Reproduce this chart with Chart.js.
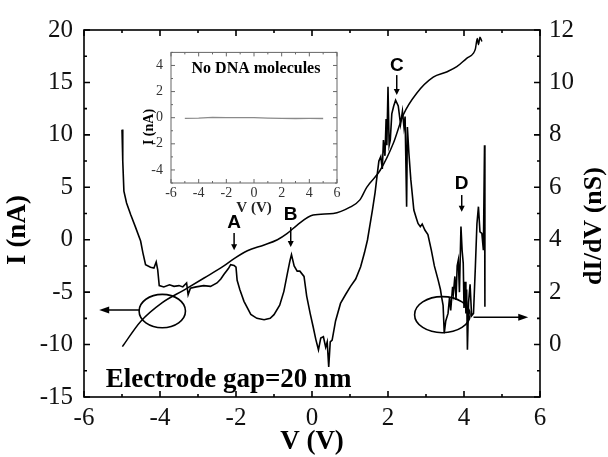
<!DOCTYPE html>
<html lang="en">
<head>
<meta charset="UTF-8">
<title>I-V and dI/dV, electrode gap 20 nm</title>
<script src="https://cdn.jsdelivr.net/npm/chart.js@4"></script>
<style>
  html, body { margin: 0; padding: 0; background: #fff; }
  #wrap { position: relative; width: 608px; height: 457px; }
  #main { position: absolute; left: 0; top: 0; }
  #inset { position: absolute; left: 120px; top: 36px; }
</style>
</head>
<body>
<div id="wrap">
  <canvas id="main" width="608" height="457"></canvas>
  <canvas id="inset" width="232" height="190"></canvas>
</div>
<script>
// I-V curve (left axis, nA)
const ivV = [-4.99, -4.51, -3.94, -3.37, -2.84, -2.32, -2.05, -1.70, -1.26, -0.91, -0.65, -0.39,
             0.03, 0.56, 1.00, 1.26, 1.44, 1.79, 2.14, 2.40, 2.75, 3.19, 3.54, 3.81, 4.07, 4.25,
             4.30, 4.35, 4.38, 4.42, 4.47];
const ivI = [-10.2, -7.8, -6.0, -4.8, -3.65, -2.5, -1.8, -1.05, -0.5, 0, 0.6, 1.4,
             2.35, 2.5, 3.1, 3.8, 5.0, 6.6, 9.2, 11.9, 13.95, 15.5, 16.0, 16.5, 17.3, 17.8,
             18.2, 19.2, 18.6, 19.3, 18.9];

// dI/dV curve (right axis, nS)
const gV = [-5.00, -4.98, -4.95, -4.88, -4.77, -4.65, -4.51, -4.45, -4.38, -4.25, -4.16, -4.10, -4.06, -4.02,
            -3.90, -3.75, -3.63, -3.50, -3.40, -3.30, -3.26, -3.20, -3.05, -2.85, -2.67, -2.50, -2.40, -2.32,
            -2.20, -2.14, -2.05, -2.00, -1.97, -1.90, -1.79, -1.61, -1.45, -1.26, -1.10, -1.00, -0.85, -0.74,
            -0.65, -0.58, -0.54, -0.47, -0.39, -0.32, -0.21, -0.14, -0.05, 0.03, 0.10, 0.17, 0.23, 0.30,
            0.36, 0.40, 0.44, 0.48, 0.53, 0.62, 0.75, 0.88, 1.01, 1.15, 1.28, 1.38, 1.46, 1.53, 1.59,
            1.66, 1.72, 1.76, 1.81, 1.85, 1.88, 1.92, 1.95, 1.97, 2.00, 2.03, 2.06, 2.10, 2.15, 2.20,
            2.27, 2.33, 2.38, 2.42, 2.45, 2.49, 2.51, 2.55, 2.60, 2.68, 2.75, 2.79, 2.85, 2.90, 2.97,
            3.05, 3.14, 3.22, 3.32, 3.38, 3.41, 3.45, 3.48, 3.52, 3.58, 3.62, 3.65, 3.70, 3.72, 3.76,
            3.79, 3.82, 3.85, 3.88, 3.92, 3.95, 3.98, 4.00, 4.03, 4.05, 4.07, 4.09, 4.12, 4.16, 4.20,
            4.25, 4.30, 4.34, 4.38, 4.42, 4.47, 4.51, 4.54, 4.55];
const gG = [8.2, 7.0, 5.85, 5.4, 4.95, 4.5, 3.95, 3.5, 3.05, 2.95, 2.92, 3.15, 2.85, 2.25,
            2.2, 2.28, 2.22, 2.25, 2.2, 2.35, 1.9, 2.15, 2.2, 2.25, 2.22, 2.35, 2.5, 2.67,
            2.9, 3.05, 3.02, 2.95, 2.45, 2.1, 1.65, 1.15, 1.0, 0.95, 1.0, 1.14, 1.5, 2.03,
            2.7, 3.2, 3.43, 3.0, 2.8, 2.8, 2.6, 1.85, 1.2, 0.68, 0.2, -0.2, 0.25, 0.3,
            -0.1, 0.1, -0.85, 0.1, 0.17, 0.9, 1.57, 1.9, 2.21, 2.5, 2.97, 3.5, 3.99, 4.6, 5.13,
            5.8, 6.53, 7.0, 7.17, 6.7, 7.8, 7.2, 8.6, 7.6, 9.83, 7.6, 7.8, 8.8, 9.1, 9.32,
            9.1, 8.4, 8.9, 8.3, 8.7, 5.26, 8.3, 7.3, 6.3, 5.13, 4.8, 4.62, 4.5, 4.6, 4.37,
            4.2, 3.6, 3.0, 2.46, 2.1, 1.82, 1.5, 0.43, 0.9, 1.19, 1.8, 1.3, 2.2, 1.95, 2.6,
            1.7, 3.0, 3.22, 2.0, 4.5, 3.6, 3.1, 1.4, 2.4, 1.19, 2.1, -0.2, 1.6, 2.3, 1.1,
            1.19, 3.0, 4.6, 5.26, 4.3, 4.24, 3.6, 7.6, 1.44];

// inset: no DNA molecules
const inV = [-5, -4, -3, -2, -1, 0, 1, 2, 3, 4, 5];
const inI = [-0.05, -0.04, 0.02, 0, 0.01, 0, -0.03, -0.05, -0.06, -0.05, -0.06];

// tick labels
const xTicks = [-6, -4, -2, 0, 2, 4, 6];
const iTicks = [-15, -10, -5, 0, 5, 10, 15, 20];
const gTicks = [0, 2, 4, 6, 8, 10, 12];
const inXTicks = [-6, -4, -2, 0, 2, 4, 6];
const inYTicks = [-4, -2, 0, 2, 4];

const SERIF = "'Liberation Serif', 'Times New Roman', serif";
const SANS = "'Liberation Sans', Arial, sans-serif";
Chart.defaults.font.family = SERIF;
Chart.defaults.color = '#111';

const pts = (xs, ys) => xs.map((x, i) => ({x: x, y: ys[i]}));
const fixTicks = vals => s => { s.ticks = vals.map(v => ({value: v})); };

// frame + inward tick marks
const frameTicks = {
  id: 'frameTicks',
  afterDatasetsDraw(chart, args, o) {
    const {ctx, chartArea: a} = chart;
    ctx.save();
    ctx.strokeStyle = o.color;
    ctx.lineWidth = o.width;
    ctx.strokeRect(a.left, a.top, a.right - a.left, a.bottom - a.top);
    ctx.beginPath();
    o.marks.forEach(m => {
      const s = chart.scales[m.scale];
      const n = Math.round((s.max - s.min) / m.step);
      for (let i = 0; i <= n; i++) {
        const v = s.min + i * m.step;
        const r = v / m.major;
        const len = Math.abs(r - Math.round(r)) < 1e-6 ? o.majorLen : o.minorLen;
        const p = s.getPixelForValue(v);
        m.sides.forEach(side => {
          if (side === 'bottom') { ctx.moveTo(p, a.bottom); ctx.lineTo(p, a.bottom - len); }
          if (side === 'top') { ctx.moveTo(p, a.top); ctx.lineTo(p, a.top + len); }
          if (side === 'left') { ctx.moveTo(a.left, p); ctx.lineTo(a.left + len, p); }
          if (side === 'right') { ctx.moveTo(a.right, p); ctx.lineTo(a.right - len, p); }
        });
      }
    });
    ctx.stroke();
    ctx.restore();
  }
};

// letters with arrows, circled curves, free texts
const notes = {
  id: 'notes',
  afterDatasetsDraw(chart, args, o) {
    const {ctx} = chart;
    const sx = chart.scales.x, sy = chart.scales.y;
    const px = v => sx.getPixelForValue(v), py = v => sy.getPixelForValue(v);
    ctx.save();
    ctx.fillStyle = '#000';
    ctx.strokeStyle = '#000';
    (o.letters || []).forEach(m => {
      ctx.font = o.letterFont;
      ctx.textAlign = 'center';
      ctx.textBaseline = 'middle';
      ctx.fillText(m.t, px(m.x), py(m.y));
      const x = px(m.x), y0 = py(m.from), y1 = py(m.to);
      ctx.lineWidth = 1.5;
      ctx.beginPath(); ctx.moveTo(x, y0); ctx.lineTo(x, y1 - 4); ctx.stroke();
      ctx.beginPath(); ctx.moveTo(x - 3, y1 - 6); ctx.lineTo(x + 3, y1 - 6); ctx.lineTo(x, y1); ctx.closePath(); ctx.fill();
    });
    (o.loops || []).forEach(m => {
      const cx = px(m.x), cy = py(m.y);
      const rx = Math.abs(px(m.x + m.rx) - cx), ry = Math.abs(py(m.y + m.ry) - cy);
      ctx.lineWidth = 1.6;
      ctx.beginPath(); ctx.ellipse(cx, cy, rx, ry, 0, 0, Math.PI * 2); ctx.stroke();
      const x0 = px(m.a0), x1 = px(m.a1), ay = py(m.ay), dir = Math.sign(x1 - x0);
      ctx.beginPath(); ctx.moveTo(x0, ay); ctx.lineTo(x1 - dir * 8, ay); ctx.stroke();
      ctx.beginPath(); ctx.moveTo(x1, ay); ctx.lineTo(x1 - dir * 10, ay - 3.5); ctx.lineTo(x1 - dir * 10, ay + 3.5); ctx.closePath(); ctx.fill();
    });
    (o.texts || []).forEach(t => {
      ctx.font = t.font;
      ctx.fillStyle = t.color || '#000';
      ctx.textAlign = t.align || 'center';
      ctx.textBaseline = t.base || 'middle';
      const x = t.data ? px(t.x) : t.x, y = t.data ? py(t.y) : t.y;
      ctx.save();
      ctx.translate(x, y);
      ctx.rotate(t.rot || 0);
      ctx.fillText(t.text, 0, 0);
      ctx.restore();
    });
    ctx.restore();
  }
};

new Chart(document.getElementById('main'), {
  type: 'line',
  data: {
    datasets: [
      { data: pts(ivV, ivI), yAxisID: 'y', borderColor: '#000', borderWidth: 1.5,
        pointRadius: 0, cubicInterpolationMode: 'monotone' },
      { data: pts(gV, gG), yAxisID: 'y2', borderColor: '#000', borderWidth: 1.6,
        pointRadius: 0, tension: 0 }
    ]
  },
  options: {
    responsive: false,
    animation: false,
    layout: { padding: { top: 30, left: 0, right: 0, bottom: 0 } },
    plugins: {
      legend: { display: false },
      tooltip: { enabled: false },
      frameTicks: {
        color: '#000', width: 1.6, majorLen: 6, minorLen: 3,
        marks: [
          { scale: 'x', step: 1, major: 2, sides: ['bottom', 'top'] },
          { scale: 'y', step: 2.5, major: 5, sides: ['left'] },
          { scale: 'y2', step: 1, major: 2, sides: ['right'] }
        ]
      },
      notes: {
        letterFont: 'bold 19px ' + SANS,
        letters: [
          { t: 'A', x: -2.05, y: 1.65, from: 0.65, to: -1.0 },
          { t: 'B', x: -0.56, y: 2.35, from: 1.2, to: -0.7 },
          { t: 'C', x: 2.23, y: 16.55, from: 15.7, to: 13.8 },
          { t: 'D', x: 3.94, y: 5.37, from: 4.26, to: 2.66 }
        ],
        loops: [
          { x: -3.94, y: -6.8, rx: 0.61, ry: 1.59, a0: -4.55, a1: -5.6, ay: -6.71 },
          { x: 3.43, y: -7.15, rx: 0.73, ry: 1.72, a0: 4.25, a1: 5.69, ay: -7.4 }
        ],
        texts: [
          { text: 'Electrode gap=20 nm', data: true, x: -5.43, y: -14.02, align: 'left',
            base: 'alphabetic', font: 'bold 27px ' + SERIF },
          { text: 'I (nA)', x: 18, y: 230, rot: -Math.PI / 2, font: 'bold 27px ' + SERIF },
          { text: 'dI/dV (nS)', x: 594, y: 226, rot: -Math.PI / 2, font: 'bold 26px ' + SERIF }
        ]
      }
    },
    scales: {
      x: {
        type: 'linear', min: -6, max: 6,
        afterBuildTicks: fixTicks(xTicks),
        afterFit: s => { s.height = 60; },
        grid: { display: false, drawTicks: false },
        border: { display: false },
        ticks: { font: { size: 25 }, padding: 6, maxRotation: 0, autoSkip: false, color: '#111' },
        title: { display: true, text: 'V (V)', color: '#000',
                 font: { size: 27, weight: 'bold', lineHeight: 1 }, padding: { top: 0, bottom: 1 } }
      },
      y: {
        type: 'linear', position: 'left', min: -15, max: 20,
        afterBuildTicks: fixTicks(iTicks),
        afterFit: s => { s.width = 84; },
        grid: { display: false, drawTicks: false },
        border: { display: false },
        ticks: { font: { size: 25 }, padding: 11, autoSkip: false, color: '#111' }
      },
      y2: {
        type: 'linear', position: 'right', min: -2, max: 12,
        afterBuildTicks: fixTicks(gTicks),
        afterFit: s => { s.width = 68; },
        grid: { display: false, drawTicks: false },
        border: { display: false },
        ticks: { font: { size: 25 }, padding: 9, autoSkip: false, color: '#111' }
      }
    }
  },
  plugins: [frameTicks, notes]
});

new Chart(document.getElementById('inset'), {
  type: 'line',
  data: {
    datasets: [
      { data: pts(inV, inI), borderColor: '#8a8a8a', borderWidth: 1.3, pointRadius: 0, tension: 0 }
    ]
  },
  options: {
    responsive: false,
    animation: false,
    layout: { padding: { top: 12, right: 15, left: 0, bottom: 0 } },
    plugins: {
      legend: { display: false },
      tooltip: { enabled: false },
      frameTicks: {
        color: '#666', width: 1, majorLen: 4, minorLen: 2,
        marks: [
          { scale: 'x', step: 1, major: 2, sides: ['bottom', 'top'] },
          { scale: 'y', step: 1, major: 2, sides: ['left', 'right'] }
        ]
      },
      notes: {
        texts: [
          { text: 'No DNA molecules', x: 136, y: 33, font: 'bold 16px ' + SERIF },
          { text: 'I (nA)', x: 29, y: 91, rot: -Math.PI / 2, font: 'bold 14px ' + SERIF }
        ]
      }
    },
    scales: {
      x: {
        type: 'linear', min: -6, max: 6,
        afterBuildTicks: fixTicks(inXTicks),
        afterFit: s => { s.height = 43; },
        grid: { display: false, drawTicks: false },
        border: { display: false },
        ticks: { font: { size: 14 }, padding: 2, maxRotation: 0, autoSkip: false, color: '#333' },
        title: { display: true, text: 'V (V)', color: '#222',
                 font: { size: 15, weight: 'bold', lineHeight: 1 }, padding: { top: 0, bottom: 10 } }
      },
      y: {
        type: 'linear', min: -5, max: 5,
        afterBuildTicks: fixTicks(inYTicks),
        afterFit: s => { s.width = 51; },
        grid: { display: false, drawTicks: false },
        border: { display: false },
        ticks: { font: { size: 14 }, padding: 8, autoSkip: false, color: '#333' }
      }
    }
  },
  plugins: [frameTicks, notes]
});
</script>
</body>
</html>
